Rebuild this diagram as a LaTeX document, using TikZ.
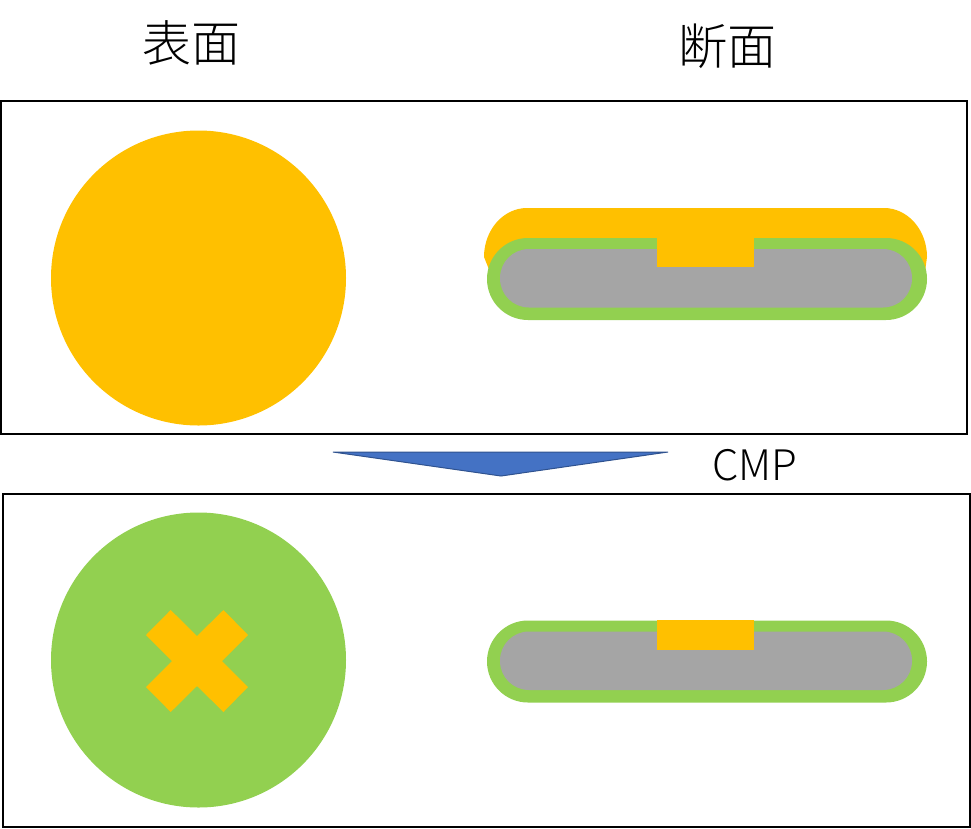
\documentclass[tikz,border=0pt]{standalone}
\usepackage{fontspec}
\newfontfamily\jpfont[UprightFont=* Light]{Noto Sans CJK JP}
\usepackage{xcolor}
\usetikzlibrary{positioning}
\definecolor{padorange}{HTML}{FFC000}
\definecolor{padgreen}{HTML}{92D050}
\definecolor{padgray}{HTML}{A5A5A5}
\definecolor{arrowblue}{HTML}{4472C4}
\definecolor{arrowedge}{HTML}{2F528F}
\tikzset{
    panel/.style={draw=black, line width=1.5pt},
    heading/.style={font=\jpfont\fontsize{49}{49}\selectfont, inner sep=0pt},
}

\begin{document}
\begin{tikzpicture}[x=1pt,y=-1pt]
    \useasboundingbox (0,0) rectangle (971,828);

    \node[heading] (surface) at (191,43) {表面};
    \node[heading] (section) at (727,46) {断面};

    \draw[panel] (1,101) rectangle (967,434);
    \draw[panel] (3,494) rectangle (970,827);

    % before polishing
    \def\WAFy{278}
    \fill[padorange] (198.5,\WAFy) circle (147.5);
    \fill[padorange] (484,257) arc[x radius=43, y radius=49, start angle=180, end angle=270] -- (884,208) arc[x radius=43, y radius=49, start angle=270, end angle=360] -- (925,272) -- (490,272) -- cycle;
    \def\CUTy{279}
    \fill[padgreen, rounded corners=41] (487,\CUTy-41) rectangle (927,\CUTy+41);
    \fill[padgray, rounded corners=29] (500,\CUTy-30) rectangle (912,\CUTy+28.5);
    \fill[padorange] (657,\CUTy-42) rectangle (754,\CUTy-12);

    \draw[arrowedge, fill=arrowblue, line width=1pt] (333,452) -- (668,452) -- (501,476) -- cycle;
    \node[font=\jpfont\fontsize{42}{42}\selectfont, inner sep=0pt] (cmp) at (755,465) {CMP};

    % after polishing
    \def\WAFy{660}
    \fill[padgreen] (198.5,\WAFy) circle (147.5);
    \fill[padorange] (170.7,610) -- (197,636) -- (223.5,610) -- (248,635) -- (222,661) -- (248,687) -- (223.5,712) -- (197,686) -- (170.7,712) -- (146,687) -- (172,661) -- (146,635) -- cycle;
    \def\CUTy{661.5}
    \fill[padgreen, rounded corners=41] (487,\CUTy-41) rectangle (927,\CUTy+41);
    \fill[padgray, rounded corners=29] (500,\CUTy-30) rectangle (912,\CUTy+28.5);
    \fill[padorange] (657,\CUTy-41.5) rectangle (754,\CUTy-12);

\end{tikzpicture}
\end{document}
